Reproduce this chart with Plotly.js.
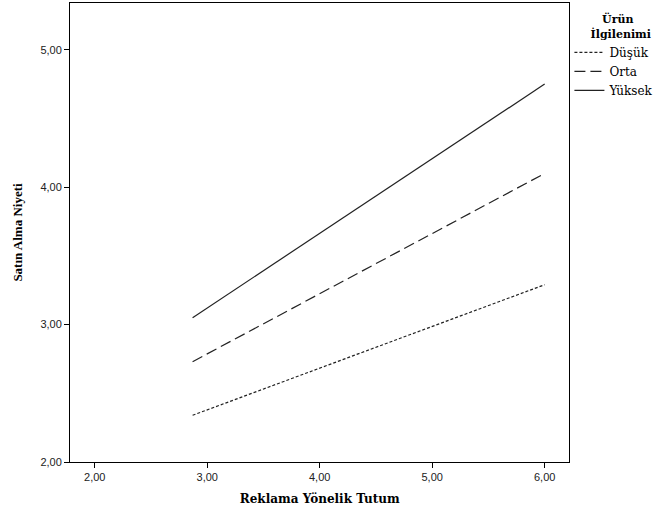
<!DOCTYPE html>
<html><head><meta charset="utf-8">
<script src="https://cdn.plot.ly/plotly-3.0.1.min.js"></script>
<style>html,body{margin:0;padding:0;background:#fff;overflow:hidden}</style>
</head><body>
<div id="chart" style="width:653px;height:511px"></div>
<script>
const xValues = [2.87, 6.00];
const seriesNames = ["Düşük", "Orta", "Yüksek"];
const dusukValues = [2.34, 3.29];
const ortaValues = [2.73, 4.10];
const yuksekValues = [3.05, 4.75];
const xTickVals = [2, 3, 4, 5, 6];
const xTickText = ["2,00", "3,00", "4,00", "5,00", "6,00"];
const yTickVals = [2, 3, 4, 5];
const yTickText = ["2,00", "3,00", "4,00", "5,00"];
const legendTitleLines = ["Ürün", "İlgilenimi"];

const serif = "Liberation Serif, DejaVu Serif, serif";
const wideSerif = "DejaVu Serif, serif";
const sans = "Liberation Sans, Arial, sans-serif";
const pad = n => "\u00a0".repeat(n);

const traces = [
  {x: xValues, y: dusukValues, name: seriesNames[0], mode: "lines",
   line: {color: "#222", width: 1.2, dash: "3px,2px"}},
  {x: xValues, y: ortaValues, name: seriesNames[1], mode: "lines",
   line: {color: "#222", width: 1.2, dash: "11px,5px"}},
  {x: xValues, y: yuksekValues, name: seriesNames[2], mode: "lines",
   line: {color: "#222", width: 1.2}}
];

const layout = {
  width: 653, height: 511,
  margin: {l: 70, r: 83, t: 3, b: 49},
  paper_bgcolor: "#fff", plot_bgcolor: "#fff",
  showlegend: true,
  xaxis: {
    range: [1.78, 6.22], tickvals: xTickVals, ticktext: xTickText,
    ticks: "outside", ticklen: 5, tickcolor: "#000", showgrid: false, zeroline: false,
    showline: true, linecolor: "#000", linewidth: 1, mirror: true,
    tickfont: {family: sans, size: 11, color: "#222"},
    title: {text: "Reklama Yönelik Tutum", font: {family: wideSerif, size: 12, color: "#000", weight: "bold"}, standoff: 12}
  },
  yaxis: {
    range: [2.0, 5.34], tickvals: yTickVals, ticktext: yTickText,
    ticks: "outside", ticklen: 5, tickcolor: "#000", showgrid: false, zeroline: false,
    showline: true, linecolor: "#000", linewidth: 1, mirror: true,
    tickfont: {family: sans, size: 11, color: "#222"},
    title: {text: "Satın Alma Niyeti", font: {family: serif, size: 13, color: "#000", weight: "bold"}, standoff: 14}
  },
  legend: {
    xref: "container", yref: "container",
    x: 0.872, xanchor: "left", y: 0.982, yanchor: "top",
    bgcolor: "rgba(0,0,0,0)", borderwidth: 0,
    font: {family: wideSerif, size: 12, color: "#000"},
    itemwidth: 30, tracegroupgap: 0,
    title: {text: pad(8) + legendTitleLines[0] + "<br>" + pad(5) + legendTitleLines[1], side: "top",
            font: {family: wideSerif, size: 11, color: "#000", weight: "bold"}}
  }
};

Plotly.newPlot("chart", traces, layout, {displayModeBar: false, staticPlot: true});
</script>
</body></html>
